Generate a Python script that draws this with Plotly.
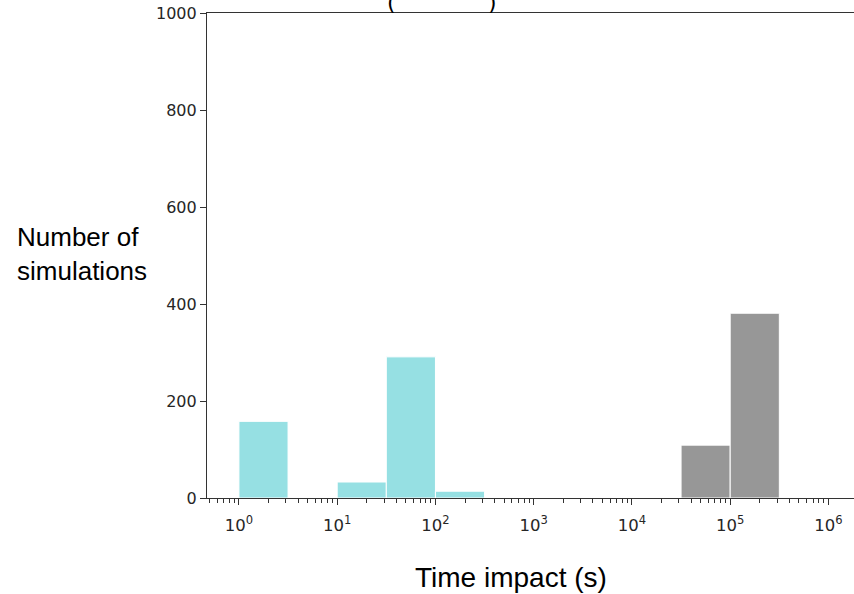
import plotly.graph_objects as go

# Histogram bins (log10 exponents of bin edges) and counts
cyan_lo_exp = [0.0, 1.0, 1.5, 2.0]
cyan_hi_exp = [0.5, 1.5, 2.0, 2.5]
cyan_counts = [158, 33, 291, 14]

grey_lo_exp = [4.5, 5.0]
grey_hi_exp = [5.0, 5.5]
grey_counts = [109, 381]

x_tick_exps = [0, 1, 2, 3, 4, 5, 6]
y_ticks = [0, 200, 400, 600, 800, 1000]

CYAN = "#96e0e3"
GREY = "#979797"

fig = go.Figure()

def add_bars(lo, hi, counts, color):
    for a, b, h in zip(lo, hi, counts):
        x0, x1 = 10 ** a, 10 ** b
        fig.add_trace(go.Scatter(
            x=[x0, x0, x1, x1, x0], y=[0, h, h, 0, 0],
            mode="lines", fill="toself", fillcolor=color,
            line=dict(color="white", width=1), hoverinfo="skip",
            showlegend=False))

add_bars(cyan_lo_exp, cyan_hi_exp, cyan_counts, CYAN)
add_bars(grey_lo_exp, grey_hi_exp, grey_counts, GREY)

fig.update_xaxes(
    type="log", range=[-0.325, 6.26],
    tickvals=[10 ** e for e in x_tick_exps],
    ticktext=["10<sup>%d</sup>" % e for e in x_tick_exps],
    ticks="outside", ticklen=6, tickwidth=1, tickcolor="#333",
    minor=dict(ticks="outside", ticklen=3.5, tickwidth=1, tickcolor="#333",
               dtick="D1", showgrid=False),
    showline=True, linecolor="#333", linewidth=1.2, mirror=True,
    showgrid=False, zeroline=False, automargin=False,
    tickfont=dict(family="DejaVu Sans", size=16.5, color="#262626"),
    ticklabelstandoff=6,
)
fig.update_yaxes(
    range=[0, 1000], tickvals=y_ticks,
    ticks="outside", ticklen=6, tickwidth=1, tickcolor="#333",
    showline=True, linecolor="#333", linewidth=1.2,
    showgrid=False, zeroline=False, automargin=False,
    tickfont=dict(family="DejaVu Sans", size=16, color="#262626"),
)

fig.add_annotation(text="Number of<br>simulations", xref="paper", yref="paper",
                   x=-0.296, y=0.503, xanchor="left", yanchor="middle",
                   align="left", showarrow=False,
                   font=dict(family="Liberation Sans, Arial", size=26, color="black"))
fig.add_annotation(text="Time impact (s)", xref="paper", yref="paper",
                   x=0.47, y=-0.163, xanchor="center", yanchor="middle",
                   showarrow=False,
                   font=dict(family="Liberation Sans, Arial", size=28, color="black"))
# title fragment (cut off at the top of the image)
for xp, t in [(0.285, "("), (0.441, ")")]:
    fig.add_annotation(text=t, xref="paper", yref="paper", x=xp, y=1.0,
                       yshift=-4, xanchor="center", yanchor="bottom",
                       showarrow=False,
                       font=dict(family="DejaVu Sans", size=22, color="black"))

fig.update_layout(
    width=854, height=594,
    margin=dict(l=207, r=0, t=13, b=96),
    plot_bgcolor="white", paper_bgcolor="white",
    showlegend=False,
)

fig.write_html("out.html", config={"displayModeBar": False},
               post_script="document.body.style.margin='0';")
